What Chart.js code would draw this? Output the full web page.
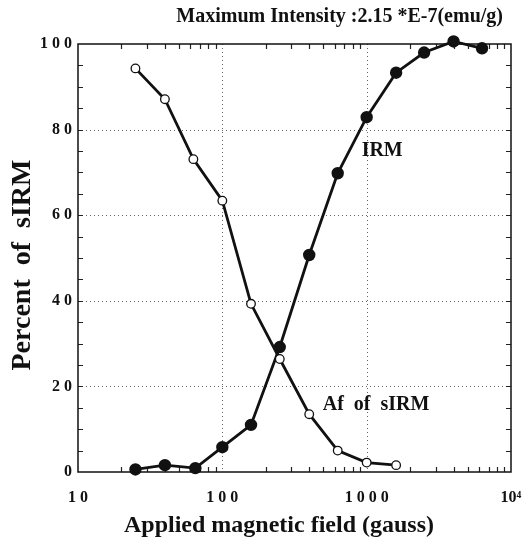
<!DOCTYPE html>
<html>
<head>
<meta charset="utf-8">
<script src="https://cdn.jsdelivr.net/npm/chart.js@4/dist/chart.umd.min.js"></script>
<style>
  html, body { margin: 0; padding: 0; background: #fff; }
  #wrap { width: 522px; height: 541px; }
</style>
</head>
<body>
<div id="wrap"><canvas id="sirmChart"></canvas></div>
<script>
// field steps (gauss) and percent of sIRM
const afField = [25, 40, 63, 100, 158, 250, 400, 630, 1000, 1600];
const afPercent = [94.3, 87.1, 73.1, 63.4, 39.3, 26.4, 13.5, 5.0, 2.2, 1.6];

const irmField = [25, 40, 65, 100, 158, 250, 400, 630, 1000, 1600, 2500, 4000, 6300];
const irmPercent = [0.6, 1.6, 0.9, 5.8, 11.0, 29.2, 50.7, 69.8, 82.9, 93.3, 98.0, 100.6, 99.0];

const xTickValues = [10, 100, 1000, 10000];
const xTickLabels = ['1 0', '1 0 0', '1 0 0 0', '10\u2074'];
const yTickValues = [0, 20, 40, 60, 80, 100];
const yTickLabels = ['0', '2 0', '4 0', '6 0', '8 0', '1 0 0'];

const topNote = 'Maximum Intensity :2.15 *E-7(emu/g)';
const xTitle = 'Applied magnetic field (gauss)';
const yTitle = 'Percent  of  sIRM';
const curveNotes = [
    { text: 'IRM', x: 923, y: 75 },
    { text: 'Af  of  sIRM', x: 496, y: 15.6 }
];

const serif = '"Liberation Serif", "Times New Roman", serif';

// dotted grid, inward minor ticks, frame and text
const frameAndNotes = {
    id: 'frameAndNotes',
    beforeDatasetsDraw(chart) {
        const { ctx, chartArea: a, scales: { x, y } } = chart;
        ctx.save();
        // dotted grid lines
        ctx.strokeStyle = '#666';
        ctx.lineWidth = 1;
        ctx.setLineDash([1, 3]);
        [100, 1000].forEach(v => {
            const px = Math.round(x.getPixelForValue(v)) + 0.5;
            ctx.beginPath(); ctx.moveTo(px, a.top); ctx.lineTo(px, a.bottom); ctx.stroke();
        });
        [20, 40, 60, 80].forEach(v => {
            const py = Math.round(y.getPixelForValue(v)) + 0.5;
            ctx.beginPath(); ctx.moveTo(a.left, py); ctx.lineTo(a.right, py); ctx.stroke();
        });
        ctx.setLineDash([]);
        ctx.strokeStyle = '#222';
        ctx.lineWidth = 1.2;
        // minor ticks on y, every 5
        for (let v = 5; v < 100; v += 5) {
            const py = Math.round(y.getPixelForValue(v)) + 0.5;
            ctx.beginPath();
            ctx.moveTo(a.left, py); ctx.lineTo(a.left + 5, py);
            ctx.moveTo(a.right, py); ctx.lineTo(a.right - 5, py);
            ctx.stroke();
        }
        // log minor ticks on x
        for (let d = 10; d < 10000; d *= 10) {
            for (let m = 2; m <= 9; m++) {
                const px = Math.round(x.getPixelForValue(d * m)) + 0.5;
                ctx.beginPath();
                ctx.moveTo(px, a.bottom); ctx.lineTo(px, a.bottom - 5);
                ctx.moveTo(px, a.top); ctx.lineTo(px, a.top + 5);
                ctx.stroke();
            }
        }
        // frame
        ctx.lineWidth = 1.5;
        ctx.strokeStyle = '#111';
        ctx.strokeRect(a.left, a.top, a.right - a.left, a.bottom - a.top);
        ctx.restore();
    },
    afterDraw(chart) {
        const { ctx, scales: { x, y } } = chart;
        ctx.save();
        ctx.fillStyle = '#111';
        ctx.textBaseline = 'middle';

        ctx.font = 'bold 20px ' + serif;
        ctx.textAlign = 'right';
        ctx.fillText(topNote, 503, 17);

        ctx.textAlign = 'left';
        ctx.font = 'bold 20px ' + serif;
        curveNotes.forEach(n => {
            ctx.fillText(n.text, x.getPixelForValue(n.x), y.getPixelForValue(n.y));
        });

        ctx.textAlign = 'center';
        ctx.font = 'bold 24px ' + serif;
        ctx.fillText(xTitle, 279, 526);

        ctx.translate(23, 265);
        ctx.rotate(-Math.PI / 2);
        ctx.font = 'bold 28px ' + serif;
        ctx.fillText(yTitle, 0, 0);
        ctx.restore();
    }
};

window.onload = function drawChart() {
    const ctx = document.getElementById('sirmChart').getContext('2d');

    new Chart(ctx, {
        type: 'line',
        data: {
            datasets: [{
                label: 'Af of sIRM',
                data: afField.map((f, i) => ({ x: f, y: afPercent[i] })),
                borderColor: '#111',
                borderWidth: 2.8,
                pointStyle: 'circle',
                pointRadius: 4.3,
                pointBorderWidth: 1.3,
                pointBackgroundColor: '#fff',
                pointBorderColor: '#111',
                tension: 0,
                clip: false
            }, {
                label: 'IRM',
                data: irmField.map((f, i) => ({ x: f, y: irmPercent[i] })),
                borderColor: '#111',
                borderWidth: 2.8,
                pointStyle: 'circle',
                pointRadius: 4.8,
                pointBackgroundColor: '#111',
                pointBorderColor: '#111',
                tension: 0,
                clip: false
            }]
        },
        options: {
            responsive: true,
            maintainAspectRatio: false,
            animation: false,
            layout: { padding: { top: 44, right: 11, left: 0, bottom: 0 } },
            plugins: {
                legend: { display: false },
                tooltip: { enabled: false }
            },
            scales: {
                x: {
                    type: 'logarithmic',
                    min: 10,
                    max: 10000,
                    afterBuildTicks(scale) {
                        scale.ticks = xTickValues.map(v => ({ value: v }));
                    },
                    afterFit(scale) {
                        scale.height = 69;
                        scale.paddingLeft = 0;
                        scale.paddingRight = 0;
                    },
                    grid: { display: false, drawTicks: false },
                    border: { display: false },
                    ticks: {
                        autoSkip: false,
                        maxRotation: 0,
                        padding: 16,
                        color: '#111',
                        font: { family: serif, size: 16, weight: 'bold' },
                        callback: (v) => xTickLabels[xTickValues.indexOf(v)] ?? ''
                    }
                },
                y: {
                    min: 0,
                    max: 100,
                    afterBuildTicks(scale) {
                        scale.ticks = yTickValues.map(v => ({ value: v }));
                    },
                    afterFit(scale) {
                        scale.width = 78;
                        scale.paddingTop = 0;
                        scale.paddingBottom = 0;
                    },
                    grid: { display: false, drawTicks: false },
                    border: { display: false },
                    ticks: {
                        padding: 6,
                        color: '#111',
                        font: { family: serif, size: 16, weight: 'bold' },
                        callback: (v) => yTickLabels[yTickValues.indexOf(v)] ?? ''
                    }
                }
            }
        },
        plugins: [frameAndNotes]
    });
};
</script>
</body>
</html>
